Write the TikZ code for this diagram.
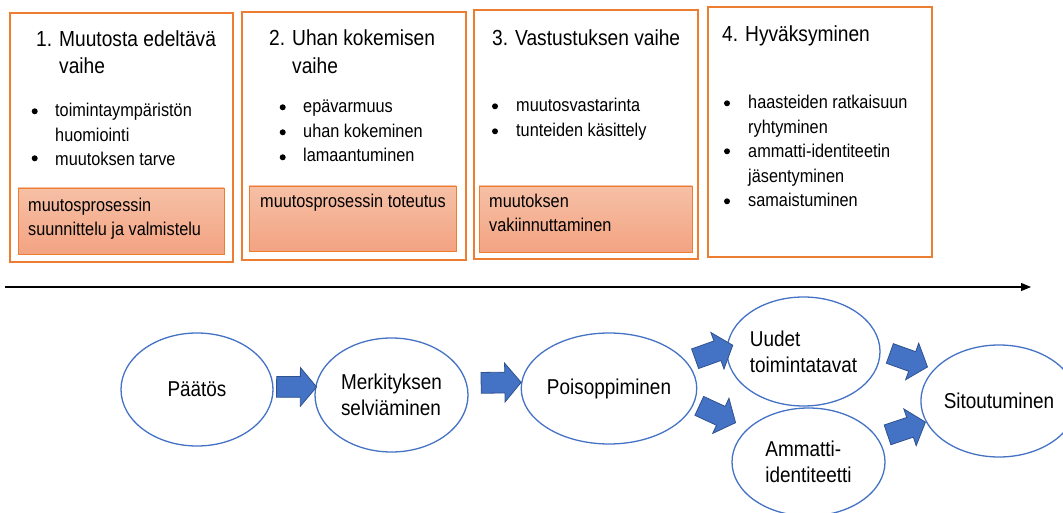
\documentclass[tikz,border=0pt]{standalone}
\usepackage{fontspec}
\setmainfont{Liberation Sans}[FakeStretch=0.88]
\usetikzlibrary{arrows.meta, shapes.geometric, shapes.arrows}
\definecolor{phOrange}{RGB}{237,125,49}
\definecolor{phTop}{RGB}{246,192,166}
\definecolor{phBottom}{RGB}{243,163,130}
\definecolor{flowBlue}{RGB}{68,114,196}
\definecolor{flowDark}{RGB}{47,82,143}
\newcommand{\phasehead}[1]{\begin{tabular}[t]{@{}p{23pt}@{}l@{}}#1\end{tabular}}
\newcommand{\lines}[1]{\begin{tabular}[t]{@{}l@{}}#1\end{tabular}}
\tikzset{
  phase/.style={line width=2pt, phOrange, fill=white},
  stage/.style={line width=0.8pt, draw=phOrange, top color=phTop, bottom color=phBottom},
  headtext/.style={anchor=base west, inner sep=0pt, font=\fontsize{21.8}{27.3}\selectfont},
  listtext/.style={anchor=base west, inner sep=0pt, font=\fontsize{18.5}{24.5}\selectfont},
  stagetext/.style={anchor=base west, inner sep=0pt, font=\fontsize{18.5}{23.5}\selectfont},
  step node/.style={ellipse, draw=flowBlue, line width=1.3pt, fill=white, inner sep=0pt,
    align=left, font=\fontsize{21.5}{26}\selectfont},
  blockarrow/.style={single arrow, sloped, draw=flowDark, line width=0.8pt, fill=flowBlue,
    minimum height=40pt, minimum width=38pt, inner xsep=0pt, inner ysep=10pt,
    single arrow head extend=9pt, single arrow tip angle=100}
}
\begin{document}
\begin{tikzpicture}[x=1pt, y=-1pt]
  \useasboundingbox (0,0) rectangle (1063,513);
  % Phase boxes
  \draw[phase] (10,13) rectangle (233,262);
  \draw[phase] (242,12) rectangle (466,260);
  \draw[phase] (474,10) rectangle (698,259);
  \draw[phase] (708,7) rectangle (932,257);
  \draw[stage] (18,188) rectangle (224,254);
  \draw[stage] (249,186) rectangle (456,251);
  \draw[stage] (479,186) rectangle (692,252);
  % Headings
  \node[headtext] (h1) at (36,46.5) {\phasehead{1. & Muutosta edeltävä\\ & vaihe}};
  \node[headtext] (h2) at (269,46) {\phasehead{2. & Uhan kokemisen\\ & vaihe}};
  \node[headtext] (h3) at (492,46) {\phasehead{3. & Vastustuksen vaihe}};
  \node[headtext] (h4) at (722,42) {\phasehead{4. & Hyväksyminen}};
  % Bullets
  \foreach \x/\y in {34.7/111.3, 34.7/158.3, 282.7/107.3, 282.7/132.3, 282.7/157.3,
      495/106.3, 495/131.3, 727/103.3, 727/151.3, 727/201.3}
    \fill (\x,\y) circle (3pt);
  \node[listtext] (l1) at (55,117) {\lines{toimintaympäristön\\ huomiointi\\ muutoksen tarve}};
  \node[listtext] (l2) at (303,113) {\lines{epävarmuus\\ uhan kokeminen\\ lamaantuminen}};
  \node[listtext] (l3) at (516,112) {\lines{muutosvastarinta\\ tunteiden käsittely}};
  \node[listtext] (l4) at (748,109) {\lines{haasteiden ratkaisuun\\ ryhtyminen\\ ammatti-identiteetin\\ jäsentyminen\\ samaistuminen}};
  % Stage labels
  \node[stagetext] (s1) at (28,212) {\lines{muutosprosessin\\ suunnittelu ja valmistelu}};
  \node[stagetext] (s2) at (260,208) {muutosprosessin toteutus};
  \node[stagetext] (s3) at (489,208) {\lines{muutoksen\\ vakiinnuttaminen}};
  % Time line
  \coordinate (t0) at (5,287);
  \coordinate (t1) at (1031,287);
  \draw[line width=1.1pt, -{Triangle[length=10pt, width=8pt]}] (t0) -- (t1);
  % Process
  \node[step node, minimum width=152pt, minimum height=113pt] (paatos) at (197,389.5) {Päätös};
  \node[step node, minimum width=153pt, minimum height=114pt] (merk) at (391.5,395) {Merkityksen\\selviäminen};
  \node[step node, minimum width=152pt, minimum height=111pt] (poiso) at (609,388.5) {Poisoppiminen};
  \node[step node, minimum width=153pt, minimum height=109pt] (uudet) at (803.5,351.5) {Uudet\\toimintatavat};
  \node[step node, minimum width=153pt, minimum height=108pt] (ammatti) at (808.5,462) {Ammatti-\\identiteetti};
  \node[step node, minimum width=152pt, minimum height=112pt] (sitou) at (999,401) {Sitoutuminen};
  \path (paatos.2) -- node[blockarrow, pos=.45] (a1) {} (merk.174);
  \path (merk.9) -- node[blockarrow, pos=.55] (a2) {} (poiso.176);
  \path (poiso.19) -- node[blockarrow, pos=.58] (a3) {} (uudet.177);
  \path (poiso.-10) -- node[blockarrow, pos=.36] (a4) {} (ammatti.151);
  \path (uudet.1) -- node[blockarrow, pos=.45] (a5) {} (sitou.154);
  \path (ammatti.19) -- node[blockarrow, pos=.51] (a6) {} (sitou.-164);
\end{tikzpicture}
\end{document}
